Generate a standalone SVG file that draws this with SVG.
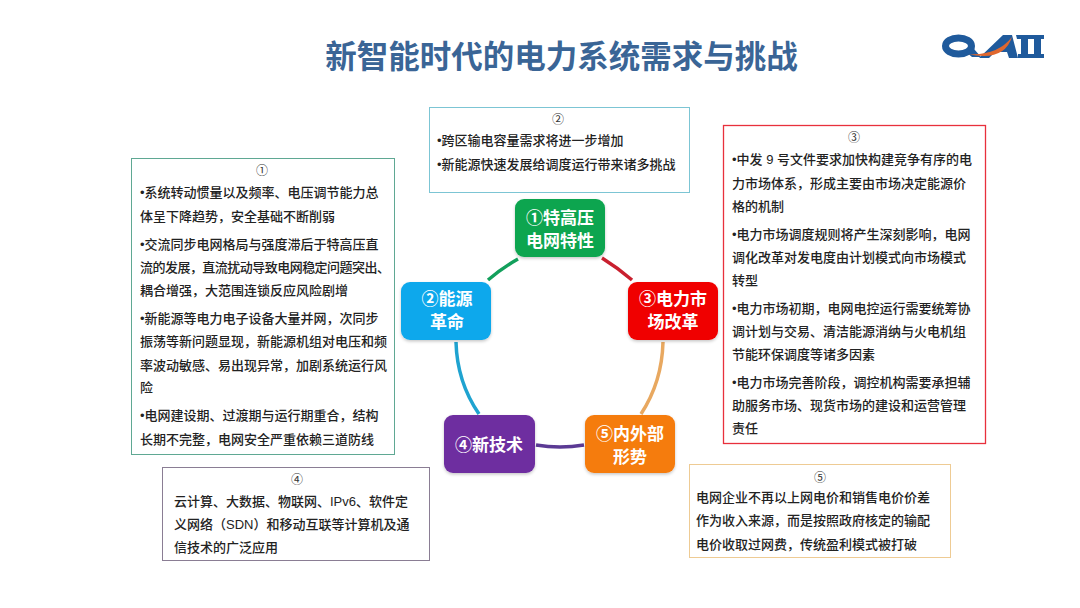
<svg xmlns="http://www.w3.org/2000/svg" width="1080" height="608" viewBox="0 0 1080 608">
<defs>
<style>
text{font-family:"Liberation Sans","Noto Sans CJK SC",sans-serif}
.t{font-size:13px;font-weight:500;fill:#222}
.n{font-size:12px;fill:#333;text-anchor:middle}
.box{fill:#fff;stroke-width:1}
.node{stroke:none}
.nt{font-size:17px;font-weight:700;fill:#fff;text-anchor:middle;font-family:"Noto Sans CJK SC","Liberation Serif",serif}
.c{fill:none;stroke-width:3.500;stroke-linecap:butt}
.lg{fill:#1f5a9c}
</style>
<filter id="sh" x="-10%" y="-10%" width="120%" height="125%"><feDropShadow dx="0" dy="1.500" stdDeviation="1.500" flood-color="#000" flood-opacity="0.22"/></filter>
</defs>
<rect width="1080" height="608" fill="#fff"/>
<text x="561.500" y="68" text-anchor="middle" font-size="31.500" font-weight="700" fill="#3a6596" style="font-family:'Noto Sans CJK SC',sans-serif">新智能时代的电力系统需求与挑战</text>
<g id="logo">
<ellipse cx="958.500" cy="46" rx="13" ry="8" fill="none" stroke="#1f5a9c" stroke-width="7"/>
<path class="lg" d="M966 52L974 49L981 57H972Z"/>
<path class="lg" d="M979 58L1003 35H1012L1018 58H1009L1007 52H995L989 58Z"/>
<path class="lg" d="M1016 35H1044V39H1041V54H1044V58H1031V54H1034V39H1028V54H1031V58H1018V54H1021V39H1017Z"/>
<path d="M968 54Q997 56 1012 37Q1004 62 968 54Z" fill="#e0672e"/>
</g>
<g id="connectors">
<path class="c" stroke="#13a05c" d="M518 259Q502 268 488 280"/>
<path class="c" stroke="#c9202f" d="M602 258Q618 268 632 280"/>
<path class="c" stroke="#1fa3d0" d="M456 342Q457 382 479 414"/>
<path class="c" stroke="#e8a860" d="M663 342Q662 382 641 414"/>
<path class="c" stroke="#5b3a94" d="M536 445Q560 449 584 445"/>
</g>
<g id="node1"><rect class="node" x="515" y="199" width="90" height="58" rx="9" fill="#0aa550" filter="url(#sh)"/><text class="nt" x="560" y="224"><tspan x="560">①特高压</tspan><tspan x="560" dy="23">电网特性</tspan></text></g>
<g id="node2"><rect class="node" x="401" y="282" width="90" height="58" rx="9" fill="#0ea8ec" filter="url(#sh)"/><text class="nt" x="447" y="305"><tspan x="447">②能源</tspan><tspan x="447" dy="23">革命</tspan></text></g>
<g id="node3"><rect class="node" x="628" y="282" width="90" height="58" rx="9" fill="#f00000" filter="url(#sh)"/><text class="nt" x="673" y="305"><tspan x="673">③电力市</tspan><tspan x="673" dy="23">场改革</tspan></text></g>
<g id="node4"><rect class="node" x="444" y="415" width="91" height="58" rx="9" fill="#6e2fa0" filter="url(#sh)"/><text class="nt" x="489" y="451">④新技术</text></g>
<g id="node5"><rect class="node" x="585" y="415" width="90" height="58" rx="9" fill="#f57c0e" filter="url(#sh)"/><text class="nt" x="630" y="440"><tspan x="630">⑤内外部</tspan><tspan x="630" dy="23">形势</tspan></text></g>
<g id="box1"><rect class="box" x="131.500" y="158.500" width="263" height="296" stroke="#5fa893"/>
<text class="n" x="262" y="175">①</text>
<text class="t" x="140" y="197">•系统转动惯量以及频率、电压调节能力总</text>
<text class="t" x="140" y="221">体呈下降趋势，安全基础不断削弱</text>
<text class="t" x="140" y="249">•交流同步电网格局与强度滞后于特高压直</text>
<text class="t" x="140" y="272" textLength="250">流的发展，直流扰动导致电网稳定问题突出、</text>
<text class="t" x="140" y="295">耦合增强，大范围连锁反应风险剧增</text>
<text class="t" x="140" y="323">•新能源等电力电子设备大量并网，次同步</text>
<text class="t" x="140" y="346">振荡等新问题显现，新能源机组对电压和频</text>
<text class="t" x="140" y="370">率波动敏感、易出现异常，加剧系统运行风</text>
<text class="t" x="140" y="392">险</text>
<text class="t" x="140" y="420">•电网建设期、过渡期与运行期重合，结构</text>
<text class="t" x="140" y="444">长期不完整，电网安全严重依赖三道防线</text></g>
<g id="box2"><rect class="box" x="429.500" y="107.500" width="260" height="85" stroke="#7cc5d4"/>
<text class="n" x="558" y="124">②</text>
<text class="t" x="437" y="145">•跨区输电容量需求将进一步增加</text>
<text class="t" x="437" y="169">•新能源快速发展给调度运行带来诸多挑战</text></g>
<g id="box3"><rect class="box" x="723.500" y="125.500" width="262" height="318" stroke="#e8303c" style="stroke-width:1.300"/>
<text class="n" x="854" y="142">③</text>
<text class="t" x="732" y="164">•中发 9 号文件要求加快构建竞争有序的电</text>
<text class="t" x="732" y="188">力市场体系，形成主要由市场决定能源价</text>
<text class="t" x="732" y="211">格的机制</text>
<text class="t" x="732" y="239">•电力市场调度规则将产生深刻影响，电网</text>
<text class="t" x="732" y="262">调化改革对发电度由计划模式向市场模式</text>
<text class="t" x="732" y="285">转型</text>
<text class="t" x="732" y="313">•电力市场初期，电网电控运行需要统筹协</text>
<text class="t" x="732" y="336">调计划与交易、清洁能源消纳与火电机组</text>
<text class="t" x="732" y="359">节能环保调度等诸多因素</text>
<text class="t" x="732" y="387">•电力市场完善阶段，调控机构需要承担辅</text>
<text class="t" x="732" y="410">助服务市场、现货市场的建设和运营管理</text>
<text class="t" x="732" y="433">责任</text></g>
<g id="box4"><rect class="box" x="162.500" y="467.500" width="267" height="93" stroke="#8a7d94"/>
<text class="n" x="297" y="484">④</text>
<text class="t" x="174" y="506">云计算、大数据、物联网、IPv6、软件定</text>
<text class="t" x="174" y="529">义网络（SDN）和移动互联等计算机及通</text>
<text class="t" x="174" y="552">信技术的广泛应用</text></g>
<g id="box5"><rect class="box" x="689.500" y="464.500" width="261" height="93" stroke="#eecb94"/>
<text class="n" x="820" y="482">⑤</text>
<text class="t" x="696" y="502">电网企业不再以上网电价和销售电价价差</text>
<text class="t" x="696" y="525">作为收入来源，而是按照政府核定的输配</text>
<text class="t" x="696" y="549">电价收取过网费，传统盈利模式被打破</text></g>
</svg>
